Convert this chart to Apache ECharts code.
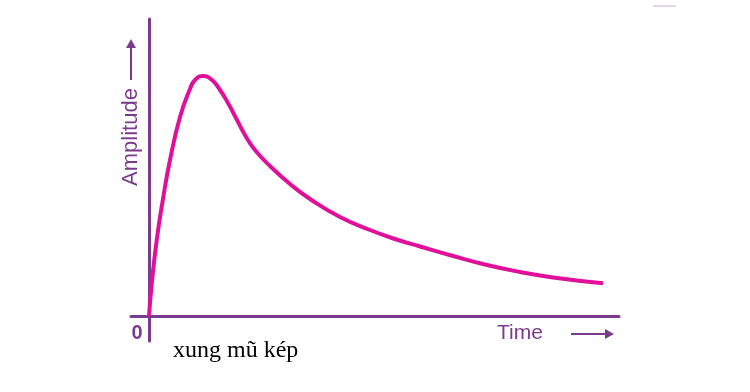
<!DOCTYPE html>
<html>
<head>
<meta charset="utf-8">
<script src="https://cdn.jsdelivr.net/npm/echarts@6/dist/echarts.min.js"></script>
<style>html,body{margin:0;padding:0;background:#fff}#c{width:750px;height:392px}</style>
</head>
<body>
<div id="c"></div>
<script>
// Pulse shape (time, amplitude)
var timeValues = [0, 3, 8, 14, 21, 31, 41, 46, 54, 63, 71, 79, 88, 96, 106, 121, 141, 161, 191, 221, 246, 271, 304, 338, 371, 404, 454];
var amplitudeValues = [0, 35, 78, 117, 156, 199, 227, 236, 240, 236, 226, 213, 196, 181, 166, 150, 132, 117, 99, 86, 77, 69.5, 60, 51, 44, 38.5, 32.7];
var xLabel = 'Time';
var yLabel = 'Amplitude';
var originLabel = '0';
var caption = 'xung mũ kép';

var AXIS = '#7b3b8d';
var CURVE = '#e0109a';

var data = timeValues.map(function (t, i) { return [t, amplitudeValues[i]]; });

var chart = echarts.init(document.getElementById('c'));
chart.setOption({
  animation: false,
  grid: { left: 131, right: 131, top: 19, bottom: 51 },
  xAxis: {
    type: 'value', min: -18, max: 470,
    axisLine: { show: true, onZero: true, lineStyle: { color: AXIS, width: 3 } },
    axisTick: { show: false }, axisLabel: { show: false }, splitLine: { show: false }
  },
  yAxis: {
    type: 'value', min: -25, max: 297,
    axisLine: { show: true, onZero: true, lineStyle: { color: AXIS, width: 3 } },
    axisTick: { show: false }, axisLabel: { show: false }, splitLine: { show: false }
  },
  series: [{
    type: 'line',
    data: data,
    smooth: 0.5,
    showSymbol: false,
    lineStyle: { color: CURVE, width: 4 },
    z: 1
  }],
  graphic: [
    { type: 'text', x: 131, y: 137, rotation: Math.PI / 2,
      style: { text: yLabel, fill: AXIS, font: '22px "Liberation Sans", Arial, sans-serif', textAlign: 'center', textVerticalAlign: 'middle' } },
    { type: 'line', shape: { x1: 131, y1: 80, x2: 131, y2: 46 }, style: { stroke: AXIS, lineWidth: 2 } },
    { type: 'polygon', shape: { points: [[126, 48], [136, 48], [131, 39]] }, style: { fill: AXIS } },
    { type: 'text', x: 497, y: 333,
      style: { text: xLabel, fill: AXIS, font: '21px "Liberation Sans", Arial, sans-serif', textAlign: 'left', textVerticalAlign: 'middle' } },
    { type: 'line', shape: { x1: 571, y1: 334, x2: 607, y2: 334 }, style: { stroke: AXIS, lineWidth: 2 } },
    { type: 'polygon', shape: { points: [[605, 329], [605, 339], [614, 334]] }, style: { fill: AXIS } },
    { type: 'text', x: 137, y: 333,
      style: { text: originLabel, fill: AXIS, font: 'bold 20px "Liberation Sans", Arial, sans-serif', textAlign: 'center', textVerticalAlign: 'middle' } },
    { type: 'text', x: 173, y: 351,
      style: { text: caption, fill: '#000', font: '24px "Liberation Serif", "Times New Roman", serif', textAlign: 'left', textVerticalAlign: 'middle' } },
    { type: 'line', shape: { x1: 653, y1: 6, x2: 676, y2: 6 }, style: { stroke: '#c9a9cf', lineWidth: 1 } }
  ]
});
</script>
</body>
</html>
